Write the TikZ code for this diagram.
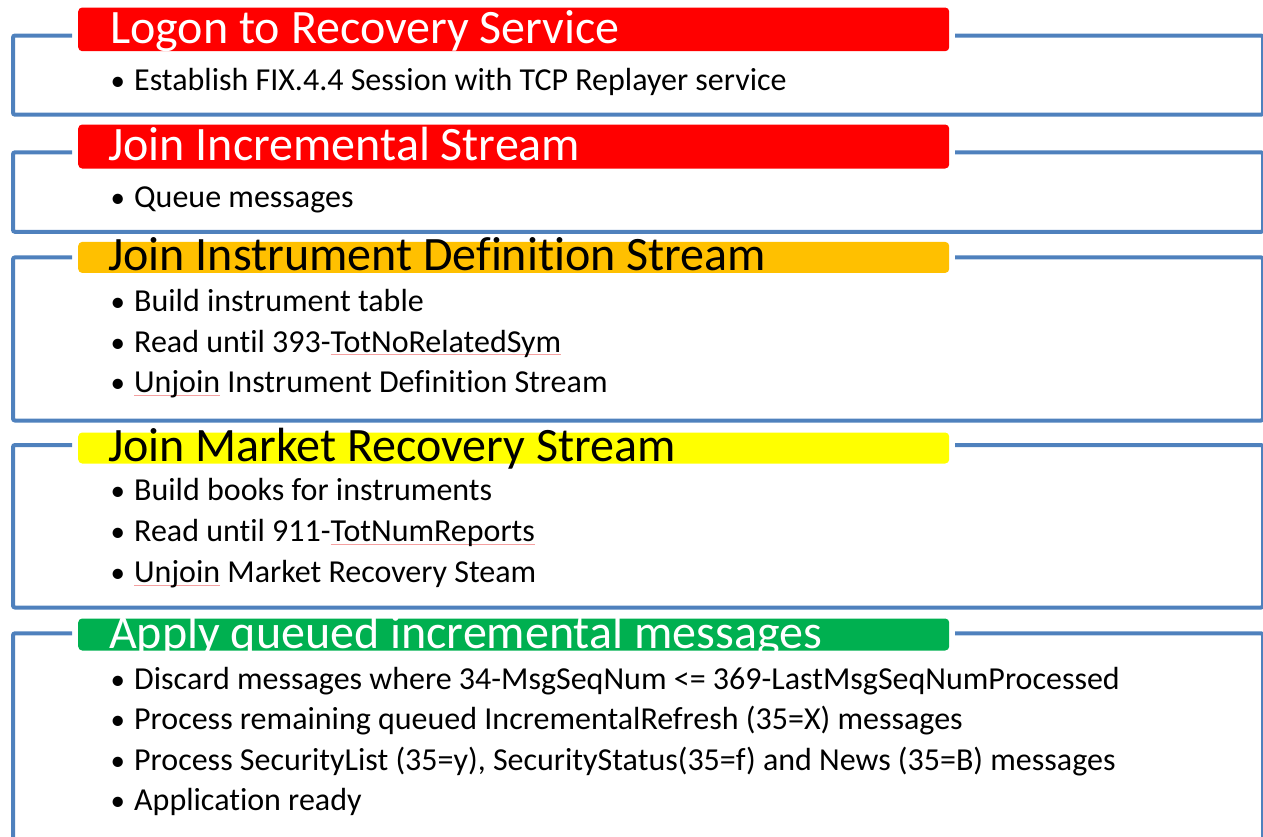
\documentclass[tikz,border=0pt]{standalone}
\usepackage{fontspec}
\setmainfont{Carlito}[Ligatures={NoCommon}]
\definecolor{frameblue}{HTML}{4F81BD}
\definecolor{barred}{HTML}{FF0000}
\definecolor{barorange}{HTML}{FFC000}
\definecolor{baryellow}{HTML}{FFFF00}
\definecolor{bargreen}{HTML}{00B050}
\definecolor{spellred}{HTML}{F4A0A0}
\newcommand\squig[1]{\setbox0\hbox{#1}\rlap{\textcolor{spellred}{\rule[-3pt]{\wd0}{0.7pt}}}\box0\relax}
\newcommand\bul{\makebox[21pt][l]{\kern-2.5pt{\fontsize{29}{29}\selectfont •}}}
\begin{document}
\begin{tikzpicture}[x=1pt,y=-1pt,
  frame/.style={draw=frameblue,line width=4pt,rounded corners=2pt},
  bar/.style={rounded corners=4pt,inner sep=0pt,anchor=north west,minimum width=871pt},
  htext/.style={anchor=base west,inner sep=0pt,font=\fontsize{48}{48}\selectfont},
  btext/.style={anchor=base west,inner sep=0pt,font=\fontsize{32}{32}\selectfont}]
\useasboundingbox (0,0) rectangle (1263,836);
% frames
\draw[frame] (72,35.5) -- (13,35.5) -- (13,114.7) -- (1263,114.7) -- (1263,35.5) -- (955,35.5);
\draw[frame] (72,152.3) -- (13,152.3) -- (13,231.8) -- (1263,231.8) -- (1263,152.3) -- (955,152.3);
\draw[frame] (72,257.4) -- (13,257.4) -- (13,420.5) -- (1263,420.5) -- (1263,257.4) -- (955,257.4);
\draw[frame] (72,445) -- (13,445) -- (13,607.5) -- (1263,607.5) -- (1263,445) -- (955,445);
\draw[frame] (72,633.3) -- (13,633.3) -- (13,900) -- (1263,900) -- (1263,633.3) -- (955,633.3);
% header bars
\node[bar,fill=barred,minimum height=43.7pt] (b1) at (78,7.3) {};
\node[bar,fill=barred,minimum height=44pt] (b2) at (78,124.3) {};
\node[bar,fill=barorange,minimum height=31pt] (b3) at (78,241.7) {};
\node[bar,fill=baryellow,minimum height=31pt] (b4) at (78,432.3) {};
\node[bar,fill=bargreen,minimum height=32pt] (b5) at (78,618.3) {};
% header texts
\node[htext,text=white] (h1) at (110,43.5) {Logon to Recovery Service};
\node[htext,text=white] (h2) at (108,160) {Join Incremental Stream};
\node[htext,text=black] (h3) at (108,270) {Join Instrument Definition Stream};
\node[htext,text=black] (h4) at (108,461.5) {Join Market Recovery Stream};
\node[htext,text=white] (h5) at (109,648.5) {Apply queued incremental messages};
% bullets
\node[btext] (t1a) at (113,90.5) {\bul Establish FIX.4.4 Session with TCP Replayer service};
\node[btext] (t2a) at (113,207.5) {\bul Queue messages};
\node[btext] (t3a) at (113,311.5) {\bul Build instrument table};
\node[btext] (t3b) at (113,352) {\bul Read until 393-\squig{TotNoRelatedSym}};
\node[btext] (t3c) at (113,392.5) {\bul \squig{Unjoin} Instrument Definition Stream};
\node[btext] (t4a) at (113,500.5) {\bul Build books for instruments};
\node[btext] (t4b) at (113,541.5) {\bul Read until 911-\squig{TotNumReports}};
\node[btext] (t4c) at (113,582.5) {\bul \squig{Unjoin} Market Recovery Steam};
\node[btext] (t5a) at (113,689) {\bul Discard messages where 34-MsgSeqNum <= 369-LastMsgSeqNumProcessed};
\node[btext] (t5b) at (113,729.5) {\bul Process remaining queued IncrementalRefresh (35=X) messages};
\node[btext] (t5c) at (113,770) {\bul Process SecurityList (35=y), SecurityStatus(35=f) and News (35=B) messages};
\node[btext] (t5d) at (113,810.5) {\bul Application ready};
\end{tikzpicture}
\end{document}
